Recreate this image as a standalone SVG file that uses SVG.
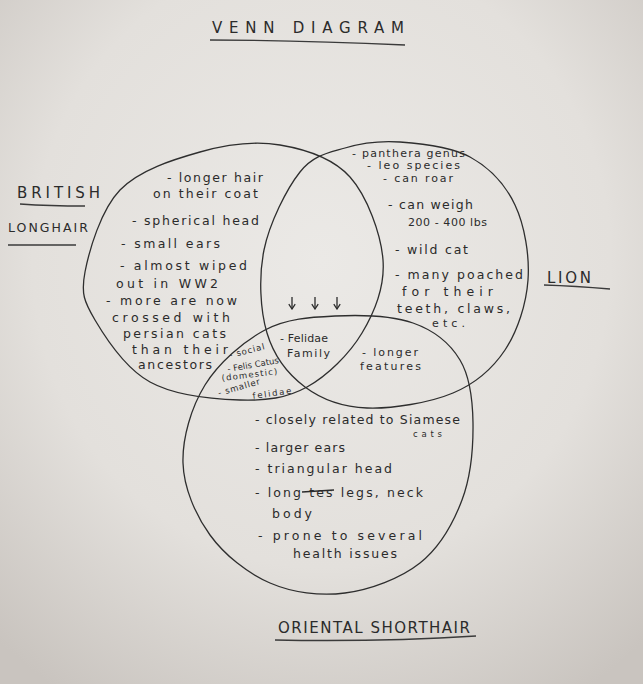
<svg xmlns="http://www.w3.org/2000/svg" width="643" height="684" viewBox="0 0 643 684">
<defs>
<radialGradient id="paper" cx="0.5" cy="0.38" r="0.75">
<stop offset="0" stop-color="#ebe9e6"/>
<stop offset="0.6" stop-color="#e3e0dc"/>
<stop offset="1" stop-color="#c9c4bf"/>
</radialGradient>
<marker id="ah" viewBox="0 0 10 10" refX="9" refY="5" markerWidth="8" markerHeight="8" markerUnits="userSpaceOnUse" orient="auto">
<path d="M3,1 L9,5 L3,9" fill="none" stroke="#2b2b2b" stroke-width="1.6"/>
</marker>
<style>
.c{fill:none;stroke:#2e2e2e;stroke-width:1.3}
.t{font-family:"DejaVu Sans","Liberation Sans",sans-serif;fill:#2b2b2b;font-size:12.5px}
.m{font-family:"DejaVu Sans","Liberation Sans",sans-serif;fill:#2b2b2b;font-size:11px}
.s{font-family:"DejaVu Sans","Liberation Sans",sans-serif;fill:#2b2b2b;font-size:8.5px}
.h{font-family:"DejaVu Sans","Liberation Sans",sans-serif;fill:#2b2b2b;font-size:15px}
.u{fill:none;stroke:#3a3a3a;stroke-width:1.3}
.a{stroke:#2b2b2b;stroke-width:1.3;fill:none}
</style>
</defs>
<rect x="0" y="0" width="643" height="684" fill="url(#paper)"/>

<g id="title">
<text class="h" x="212" y="33" textLength="192" lengthAdjust="spacing">VENN DIAGRAM</text>
<path class="u" d="M210,40 Q300,40 405,45"/>
</g>

<g id="british-longhair">
<path class="c" d="M85,272 C89.2,250.3 100.8,210 120,190 C139.2,170 173.3,159.5 200,152 C226.7,144.5 255,140.8 280,145 C305,149.2 332.8,157.8 350,177 C367.2,196.2 381,234 383,260 C385,286 374.7,311.8 362,333 C349.3,354.2 327.3,375.8 307,387 C286.7,398.2 266.2,400.8 240,400 C213.8,399.2 174.2,395.3 150,382 C125.8,368.7 105.8,338.3 95,320 C84.2,301.7 80.8,293.7 85,272 Z"/>
<text class="h" x="17" y="198" textLength="83" lengthAdjust="spacing">BRITISH</text>
<path class="u" d="M20,204 Q50,206 85,206"/>
<text class="t" x="8" y="232" textLength="80" lengthAdjust="spacing">LONGHAIR</text>
<path class="u" d="M8,245 L76,245"/>
<text class="t" x="167" y="182" textLength="96" lengthAdjust="spacing">- longer hair</text>
<text class="t" x="153" y="198" textLength="105" lengthAdjust="spacing">on their coat</text>
<text class="t" x="132" y="225" textLength="127" lengthAdjust="spacing">- spherical head</text>
<text class="t" x="121" y="248" textLength="99" lengthAdjust="spacing">- small ears</text>
<text class="t" x="120" y="270" textLength="127" lengthAdjust="spacing">- almost wiped</text>
<text class="t" x="116" y="288" textLength="102" lengthAdjust="spacing">out in WW2</text>
<text class="t" x="106" y="305" textLength="131" lengthAdjust="spacing">- more are now</text>
<text class="t" x="112" y="322" textLength="118" lengthAdjust="spacing">crossed with</text>
<text class="t" x="123" y="338" textLength="103" lengthAdjust="spacing">persian cats</text>
<text class="t" x="132" y="354" textLength="96" lengthAdjust="spacing">than their</text>
<text class="t" x="138" y="369" textLength="74" lengthAdjust="spacing">ancestors</text>
</g>

<g id="lion">
<path class="c" d="M400,142 C420.8,143.5 450.8,146.5 470,157 C489.2,167.5 505.3,184.5 515,205 C524.7,225.5 529.7,255.8 528,280 C526.3,304.2 517.5,331.2 505,350 C492.5,368.8 476,383.3 453,393 C430,402.7 391.7,409 367,408 C342.3,407 321.7,399.5 305,387 C288.3,374.5 273.8,355.8 267,333 C260.2,310.2 258.5,276.8 264,250 C269.5,223.2 286.5,189 300,172 C313.5,155 328.3,153 345,148 C361.7,143 379.2,140.5 400,142 Z"/>
<text class="h" x="547" y="283" textLength="44" lengthAdjust="spacing">LION</text>
<path class="u" d="M544,285 Q575,286 610,289"/>
<text class="m" x="352" y="157" textLength="113" lengthAdjust="spacing">- panthera genus</text>
<text class="m" x="367" y="169" textLength="93" lengthAdjust="spacing">- leo species</text>
<text class="m" x="383" y="182" textLength="70" lengthAdjust="spacing">- can roar</text>
<text class="t" x="388" y="209" textLength="85" lengthAdjust="spacing">- can weigh</text>
<text class="m" x="408" y="226" textLength="79" lengthAdjust="spacing">200 - 400 lbs</text>
<text class="t" x="395" y="254" textLength="73" lengthAdjust="spacing">- wild cat</text>
<text class="t" x="395" y="279" textLength="128" lengthAdjust="spacing">- many poached</text>
<text class="t" x="402" y="296" textLength="91" lengthAdjust="spacing">for their</text>
<text class="t" x="397" y="313" textLength="113" lengthAdjust="spacing">teeth, claws,</text>
<text class="m" x="432" y="327" textLength="33" lengthAdjust="spacing">etc.</text>
</g>

<g id="oriental-shorthair">
<path class="c" d="M335,316 C359.7,314.8 392.2,315.7 413,323 C433.8,330.3 450,343.3 460,360 C470,376.7 472.7,399.7 473,423 C473.3,446.3 470.8,476.7 462,500 C453.2,523.3 439.5,547.5 420,563 C400.5,578.5 370,589.7 345,593 C320,596.3 292.5,592.7 270,583 C247.5,573.3 224.5,555 210,535 C195.5,515 183.8,488 183,463 C182.2,438 191.3,407.2 205,385 C218.7,362.8 243.3,341.5 265,330 C286.7,318.5 310.3,317.2 335,316 Z"/>
<text class="h" x="278" y="633" textLength="192" lengthAdjust="spacing">ORIENTAL SHORTHAIR</text>
<path class="u" d="M275,640 Q380,642 476,636"/>
<text class="t" x="255" y="424" textLength="205" lengthAdjust="spacing">- closely related to Siamese</text>
<text class="s" x="413" y="437" textLength="29" lengthAdjust="spacing">cats</text>
<text class="t" x="255" y="452" textLength="90" lengthAdjust="spacing">- larger ears</text>
<text class="t" x="255" y="473" textLength="137" lengthAdjust="spacing">- triangular head</text>
<text class="t" x="255" y="497" textLength="168" lengthAdjust="spacing">- long tes legs, neck</text>
<path class="a" d="M302,492 L334,490"/>
<text class="t" x="272" y="518" textLength="40" lengthAdjust="spacing">body</text>
<text class="t" x="258" y="540" textLength="164" lengthAdjust="spacing">- prone to several</text>
<text class="t" x="293" y="558" textLength="104" lengthAdjust="spacing">health issues</text>
</g>

<g id="overlaps">
<text class="m" x="280" y="342" textLength="48" lengthAdjust="spacing">- Felidae</text>
<text class="m" x="287" y="357" textLength="43" lengthAdjust="spacing">Family</text>
<text class="m" x="362" y="356" textLength="56" lengthAdjust="spacing">- longer</text>
<text class="m" x="360" y="370" textLength="61" lengthAdjust="spacing">features</text>
<text class="s" transform="translate(230,358) rotate(-14)" textLength="36" lengthAdjust="spacing">- social</text>
<text class="s" transform="translate(228,372) rotate(-10)" textLength="52" lengthAdjust="spacing">- Felis Catus</text>
<text class="s" transform="translate(222,381) rotate(-7)" textLength="56" lengthAdjust="spacing">(domestic)</text>
<text class="s" transform="translate(219,396) rotate(-16)" textLength="43" lengthAdjust="spacing">- smaller</text>
<text class="s" transform="translate(253,399) rotate(-8)" textLength="39" lengthAdjust="spacing">felidae</text>
</g>

<g id="connectors">
<line class="a" x1="292" y1="297" x2="292" y2="309" marker-end="url(#ah)"/>
<line class="a" x1="315" y1="297" x2="315" y2="309" marker-end="url(#ah)"/>
<line class="a" x1="337" y1="297" x2="337" y2="309" marker-end="url(#ah)"/>
</g>
</svg>
